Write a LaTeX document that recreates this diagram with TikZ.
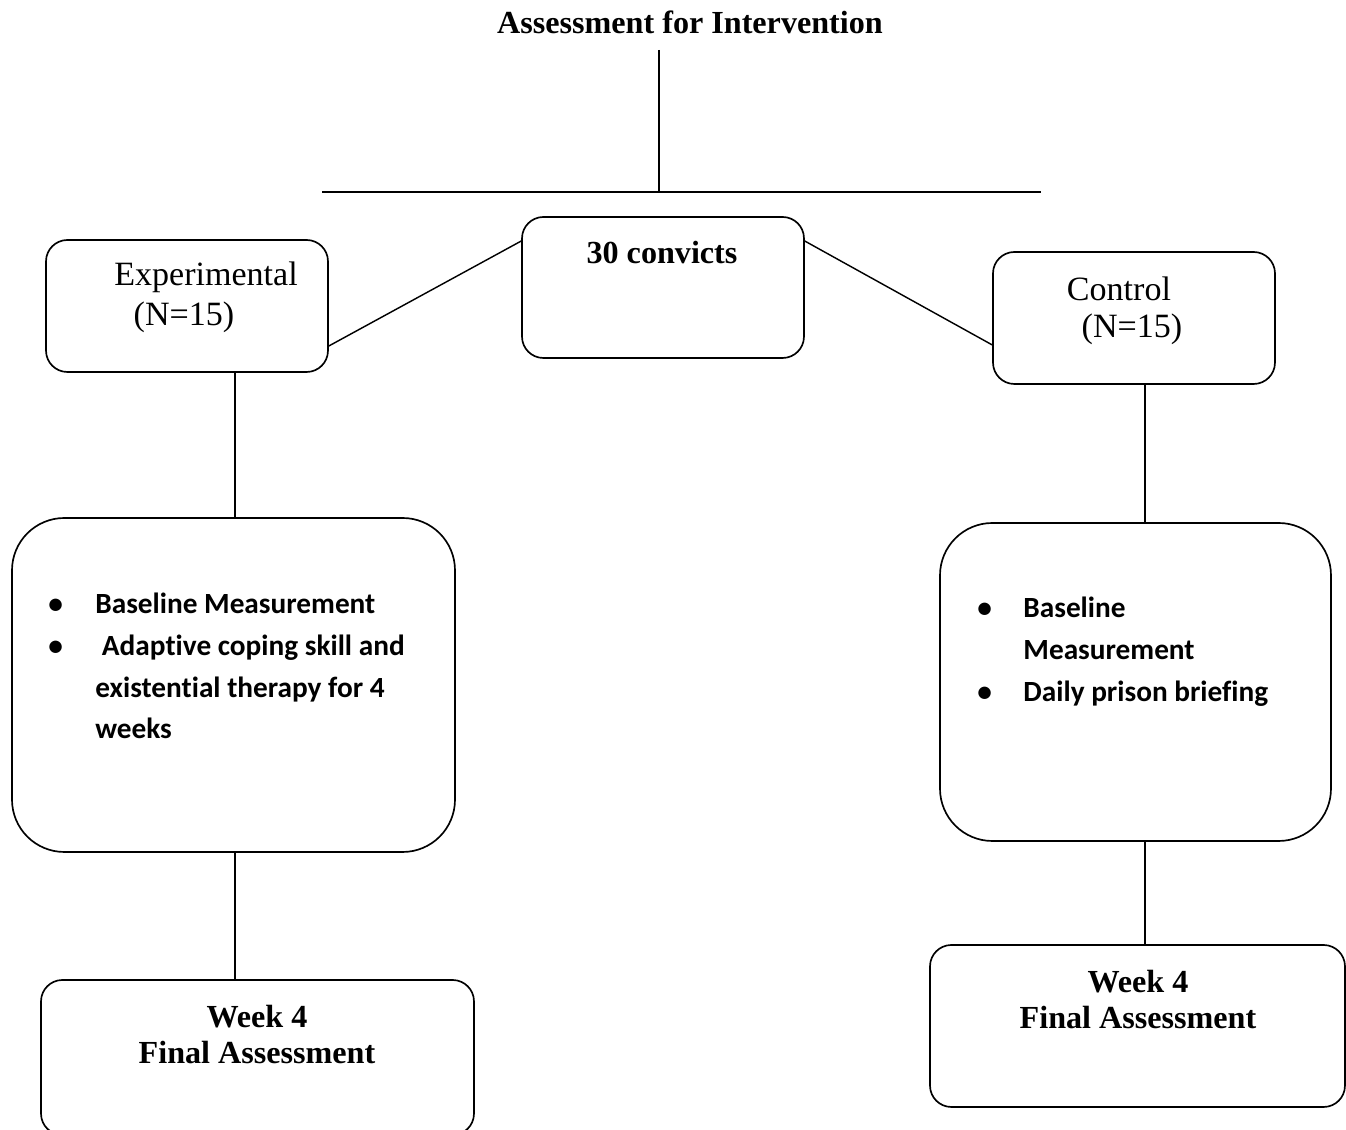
\documentclass[tikz,border=0pt]{standalone}
\usepackage{fontspec}
\setmainfont{Liberation Serif}
\newfontfamily\calibri[Ligatures=NoCommon]{Carlito}
\def\u{0.42pt}
\tikzset{
  box/.style={draw, line width=0.7pt, rounded corners=9pt, inner sep=0pt},
  bigbox/.style={draw, line width=0.7pt, rounded corners=22pt, inner sep=0pt},
  head/.style={font=\fontsize{13.5}{15.5}\selectfont\bfseries, align=center, inner sep=0pt},
  group/.style={font=\fontsize{14.3}{16}\selectfont, inner sep=0pt},
  items/.style={font=\calibri\fontsize{12.3}{17.5}\selectfont\bfseries, inner sep=0pt, anchor=base west},
  link/.style={line width=0.6pt}
}
\begin{document}
\begin{tikzpicture}[x=0.42pt, y=-0.42pt]
    \useasboundingbox (0,0) rectangle (1346,1130);
    \clip (0,0) rectangle (1346,1130);
    % title and top bar
    \node[head] (title) at (690,22) {Assessment for Intervention};
    \coordinate (top) at (659,50);
    \coordinate (bar) at (659,192);
    \coordinate (barL) at (322,192);
    \coordinate (barR) at (1041,192);
    \draw[link] (top) -- (bar);
    \draw[line width=1pt] (barL) -- (barR);
    % group boxes
    \node[box, minimum width=282*\u, minimum height=141*\u] (convicts) at (663,287.5) {};
    \node[box, minimum width=282*\u, minimum height=132*\u] (exp) at (187,306) {};
    \node[box, minimum width=282*\u, minimum height=132*\u] (ctrl) at (1134,318) {};
    \node[head] (convictstxt) at (662,253) {30 convicts};
    \node[group] (exptxt) at (206,277) {Experimental};
    \node[group] (expn) at (184,317) {(N=15)};
    \node[group] (ctrltxt) at (1119,289) {Control};
    \node[group] (ctrln) at (1132,329) {(N=15)};
    \draw[link] ([yshift=-16.8pt]exp.east) -- ([yshift=19.5pt]convicts.west);
    \draw[link] ([yshift=19.5pt]convicts.east) -- ([yshift=-11.3pt]ctrl.west);
    % programme boxes
    \node[bigbox, minimum width=443*\u, minimum height=334*\u] (expprog) at (233.5,685) {};
    \node[bigbox, minimum width=391*\u, minimum height=318*\u] (ctrlprog) at (1135.5,682) {};
    \node[items] (expitems) at (48,614) {\begin{tabular}[t]{@{}p{19.7pt}@{}p{150pt}@{}}
      \textbullet & Baseline Measurement\\
      \textbullet & \ Adaptive coping skill and\newline existential therapy for 4\newline weeks
    \end{tabular}};
    \node[items] (ctrlitems) at (977,618) {\begin{tabular}[t]{@{}p{19.3pt}@{}p{130pt}@{}}
      \textbullet & Baseline\newline Measurement\\
      \textbullet & Daily prison briefing
    \end{tabular}};
    % final boxes
    \node[box, minimum width=433*\u, minimum height=155*\u] (expfinal) at (257.5,1057.5) {};
    \node[box, minimum width=415*\u, minimum height=162*\u] (ctrlfinal) at (1137.5,1026) {};
    \node[head] (expfinaltxt) at (257,1034.5) {Week 4\\Final Assessment};
    \node[head] (ctrlfinaltxt) at (1138,999.5) {Week 4\\Final Assessment};
    % vertical links
    \coordinate (expline) at (235,0);
    \coordinate (ctrlline) at (1145,0);
    \draw[link] (exp.south -| expline) -- (expprog.north -| expline);
    \draw[link] (expprog.south -| expline) -- (expfinal.north -| expline);
    \draw[link] (ctrl.south -| ctrlline) -- (ctrlprog.north -| ctrlline);
    \draw[link] (ctrlprog.south -| ctrlline) -- (ctrlfinal.north -| ctrlline);
\end{tikzpicture}
\end{document}
